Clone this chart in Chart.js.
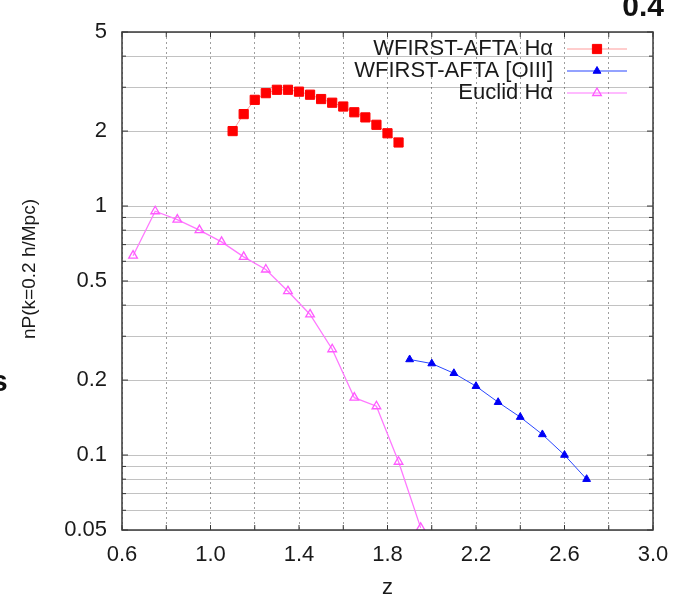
<!DOCTYPE html>
<html>
<head>
<meta charset="utf-8">
<script src="https://cdn.jsdelivr.net/npm/chart.js@4.4.1/dist/chart.umd.min.js"></script>
<style>
  html, body { margin: 0; padding: 0; background: #fff; }
  #wrap { width: 673px; height: 604px; }
</style>
</head>
<body>
<div id="wrap"><canvas id="main-chart" width="673" height="604"></canvas></div>
<script>
// values (z vs nP at k=0.2 h/Mpc)
var hAlphaZ = [1.10, 1.15, 1.20, 1.25, 1.30, 1.35, 1.40, 1.45, 1.50, 1.55, 1.60, 1.65, 1.70, 1.75, 1.80, 1.85];
var hAlphaNP = [2.00, 2.34, 2.67, 2.84, 2.93, 2.93, 2.88, 2.80, 2.69, 2.60, 2.51, 2.38, 2.27, 2.12, 1.96, 1.80];

var oiiiZ = [1.9, 2.0, 2.1, 2.2, 2.3, 2.4, 2.5, 2.6, 2.7];
var oiiiNP = [0.242, 0.233, 0.213, 0.189, 0.163, 0.142, 0.121, 0.100, 0.080];

var euclidZ = [0.65, 0.75, 0.85, 0.95, 1.05, 1.15, 1.25, 1.35, 1.45, 1.55, 1.65, 1.75, 1.85, 1.95];
var euclidNP = [0.632, 0.953, 0.882, 0.800, 0.718, 0.625, 0.556, 0.455, 0.367, 0.266, 0.170, 0.157, 0.094, 0.051];

var seriesLabels = ['WFIRST-AFTA H\u03b1', 'WFIRST-AFTA [OIII]', 'Euclid H\u03b1'];

var xGridValues = [0.6, 0.8, 1.0, 1.2, 1.4, 1.6, 1.8, 2.0, 2.2, 2.4, 2.6, 2.8, 3.0];
var xTickLabels = ['0.6', '1.0', '1.4', '1.8', '2.2', '2.6', '3.0'];
var yGridValues = [0.05, 0.06, 0.07, 0.08, 0.09, 0.1, 0.2, 0.3, 0.4, 0.5, 0.6, 0.7, 0.8, 0.9, 1, 2, 3, 4, 5];
var yTickLabels = ['0.05', '0.1', '0.2', '0.5', '1', '2', '5'];

var FONT = '"Liberation Sans", Arial, Helvetica, sans-serif';
Chart.defaults.font.family = FONT;
Chart.defaults.color = '#1a1a1a';

function toPoints(xs, ys) {
    return xs.map(function (x, i) { return { x: x, y: ys[i] }; });
}

// frame, inner ticks, legend and y title (gnuplot look)
var gnuplotBits = {
    id: 'gnuplotBits',
    afterDraw: function (chart) {
        var ctx = chart.ctx;
        var a = chart.chartArea;
        var xs = chart.scales.x, ys = chart.scales.y;
        ctx.save();
        ctx.strokeStyle = '#333';
        ctx.lineWidth = 1;
        ys.ticks.forEach(function (t) {
            var py = ys.getPixelForValue(t.value);
            var len = yTickLabels.indexOf(String(t.value)) >= 0 ? 6 : 4;
            ctx.beginPath();
            ctx.moveTo(a.left, py); ctx.lineTo(a.left + len, py);
            ctx.moveTo(a.right, py); ctx.lineTo(a.right - len, py);
            ctx.stroke();
        });
        xs.ticks.forEach(function (t) {
            var px = xs.getPixelForValue(t.value);
            ctx.beginPath();
            ctx.moveTo(px, a.top); ctx.lineTo(px, a.top + 5);
            ctx.moveTo(px, a.bottom); ctx.lineTo(px, a.bottom - 5);
            ctx.stroke();
        });
        ctx.lineWidth = 1.5;
        ctx.strokeStyle = '#3a3a3a';
        ctx.strokeRect(a.left, a.top, a.right - a.left, a.bottom - a.top);

        // legend
        ctx.font = '22px ' + FONT;
        ctx.textAlign = 'right';
        ctx.textBaseline = 'middle';
        chart.data.datasets.forEach(function (ds, i) {
            var ly = 49 + i * 22;
            ctx.fillStyle = '#1a1a1a';
            ctx.fillText(ds.label, 553, ly);
            ctx.strokeStyle = ds.borderColor;
            ctx.lineWidth = 1.2;
            ctx.beginPath();
            ctx.moveTo(567, ly); ctx.lineTo(627, ly);
            ctx.stroke();
            ctx.fillStyle = ds.pointBackgroundColor;
            ctx.strokeStyle = ds.pointBorderColor;
            ctx.lineWidth = ds.pointBorderWidth;
            var r = ds.pointRadius;
            ctx.beginPath();
            if (ds.pointStyle === 'rect') {
                var s = r * Math.SQRT1_2;
                ctx.rect(597 - s, ly - s, 2 * s, 2 * s);
            } else {
                ctx.moveTo(597, ly - r);
                ctx.lineTo(597 + r * 0.866, ly + r / 2);
                ctx.lineTo(597 - r * 0.866, ly + r / 2);
                ctx.closePath();
            }
            ctx.fill();
            ctx.stroke();
        });

        // y title
        ctx.save();
        ctx.translate(30, 269);
        ctx.rotate(-Math.PI / 2);
        ctx.textAlign = 'center';
        ctx.fillStyle = '#1a1a1a';
        ctx.font = '19px ' + FONT;
        ctx.fillText('nP(k=0.2 h/Mpc)', 0, 0);
        ctx.restore();

        // cut-off bits of neighbouring text in the source figure
        ctx.font = 'bold 30px ' + FONT;
        ctx.textAlign = 'right';
        ctx.textBaseline = 'alphabetic';
        ctx.fillStyle = '#111';
        ctx.fillText('0.4', 664, 16);
        ctx.textAlign = 'left';
        ctx.fillText('s', -9, 391);
        ctx.restore();
    }
};

var myChart = new Chart(document.querySelector('#main-chart').getContext('2d'), {
    type: 'line',
    data: {
        datasets: [{
            label: seriesLabels[0],
            data: toPoints(hAlphaZ, hAlphaNP),
            borderColor: 'rgba(255, 90, 90, 0.6)',
            borderWidth: 1,
            pointStyle: 'rect',
            pointRadius: 6.5,
            pointBackgroundColor: 'rgb(255, 0, 0)',
            pointBorderColor: 'rgb(255, 0, 0)',
            pointBorderWidth: 1
        }, {
            label: seriesLabels[1],
            data: toPoints(oiiiZ, oiiiNP),
            borderColor: 'rgb(40, 70, 255)',
            borderWidth: 1,
            pointStyle: 'triangle',
            pointRadius: 4.5,
            pointBackgroundColor: 'rgb(0, 0, 245)',
            pointBorderColor: 'rgb(0, 0, 245)',
            pointBorderWidth: 1
        }, {
            label: seriesLabels[2],
            data: toPoints(euclidZ, euclidNP),
            borderColor: 'rgb(255, 120, 255)',
            borderWidth: 1.3,
            pointStyle: 'triangle',
            pointRadius: 5,
            pointBackgroundColor: 'rgba(255, 255, 255, 0)',
            pointBorderColor: 'rgb(255, 90, 255)',
            pointBorderWidth: 1.3
        }]
    },
    options: {
        responsive: false,
        animation: false,
        devicePixelRatio: 1,
        layout: { padding: { top: 32, right: 20, bottom: 0, left: 0 } },
        plugins: { legend: { display: false }, tooltip: { enabled: false } },
        elements: { line: { tension: 0 } },
        scales: {
            x: {
                type: 'linear',
                min: 0.6,
                max: 3.0,
                afterFit: function (scale) {
                    scale.height = 74;
                    scale.paddingLeft = 0;
                    scale.paddingRight = 0;
                },
                afterBuildTicks: function (scale) {
                    scale.ticks = xGridValues.map(function (v) { return { value: v }; });
                },
                ticks: {
                    autoSkip: false,
                    maxRotation: 0,
                    padding: 12,
                    font: { size: 22 },
                    callback: function (v) {
                        var s = Number(v).toFixed(1);
                        return xTickLabels.indexOf(s) >= 0 ? s : '';
                    }
                },
                grid: { color: 'rgba(0, 0, 0, 0.38)', lineWidth: 1, drawTicks: false },
                border: { display: false, dash: [2, 3] },
                title: { display: true, text: 'z', font: { size: 22 }, padding: { top: 0, bottom: 3 } }
            },
            y: {
                type: 'logarithmic',
                min: 0.05,
                max: 5,
                afterFit: function (scale) {
                    scale.width = 122;
                    scale.paddingTop = 0;
                    scale.paddingBottom = 0;
                },
                afterBuildTicks: function (scale) {
                    scale.ticks = yGridValues.map(function (v) { return { value: v }; });
                },
                ticks: {
                    autoSkip: false,
                    padding: 15,
                    font: { size: 22 },
                    callback: function (v) {
                        var s = String(v);
                        return yTickLabels.indexOf(s) >= 0 ? s : '';
                    }
                },
                grid: { color: 'rgba(0, 0, 0, 0.24)', lineWidth: 1, drawTicks: false },
                border: { display: false }
            }
        }
    },
    plugins: [gnuplotBits]
});
</script>
</body>
</html>
